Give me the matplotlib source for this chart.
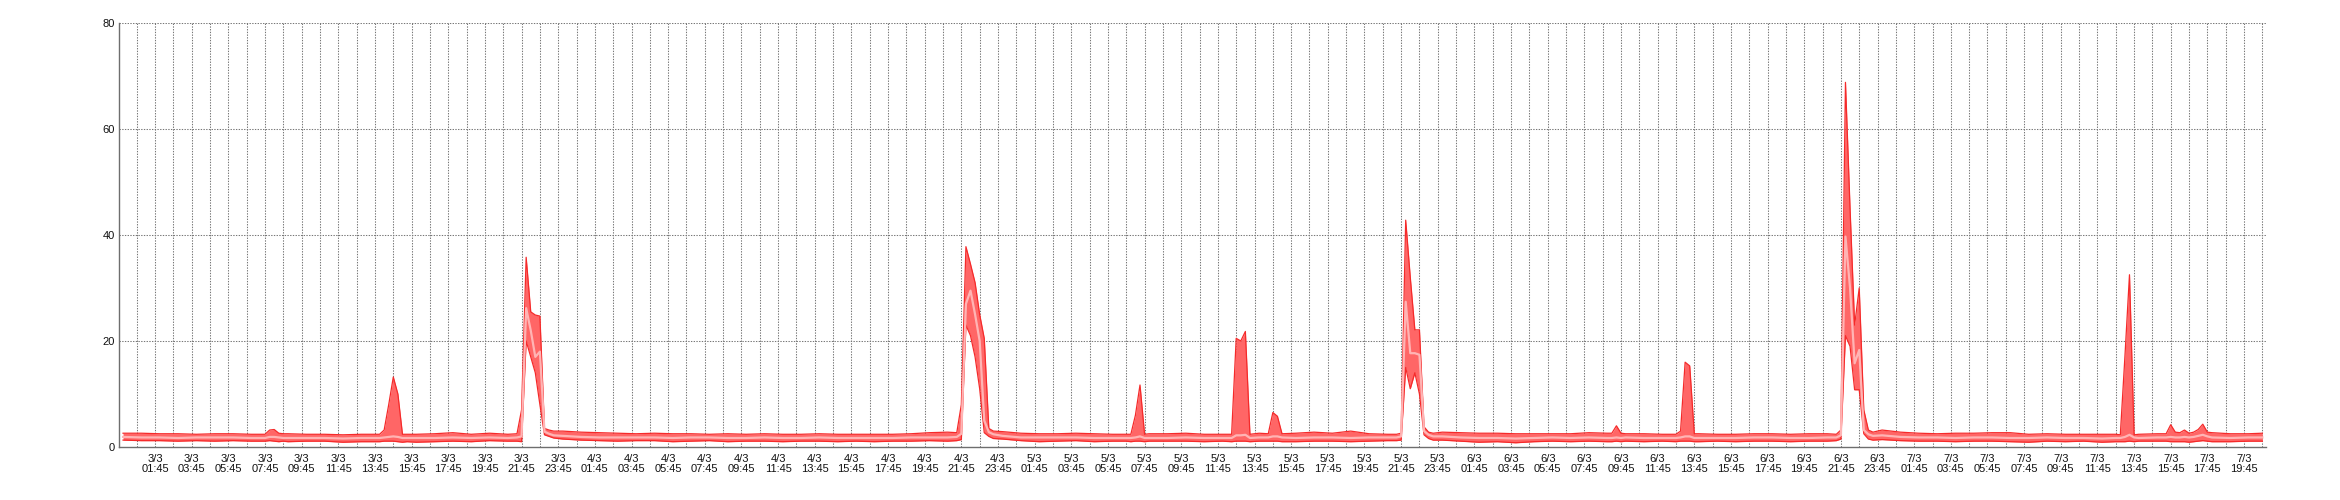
import matplotlib
matplotlib.use("Agg")
import matplotlib.pyplot as plt

# hourly baseline, starting 3/3 00:00 (hour 0) up to 7/3 20:00 (hour 116)
base_hi = [
    2.6, 2.6, 2.5, 2.5, 2.4, 2.5, 2.5, 2.4, 2.4, 2.5, 2.4, 2.4, 2.3, 2.4, 2.4, 2.4, 2.4, 2.5, 2.7, 2.4, 2.6, 2.4, 2.5, 3.2,
    3.0, 2.8, 2.7, 2.6, 2.5, 2.6, 2.5, 2.5, 2.4, 2.5, 2.4, 2.5, 2.4, 2.4, 2.5, 2.4, 2.4, 2.4, 2.4, 2.5, 2.7, 2.8, 2.9, 3.3,
    2.9, 2.6, 2.5, 2.5, 2.6, 2.5, 2.4, 2.4, 2.5, 2.5, 2.6, 2.4, 2.4, 2.4, 2.6, 2.5, 2.6, 2.8, 2.6, 3.0, 2.5, 2.4, 2.5, 3.0,
    2.8, 2.7, 2.6, 2.6, 2.5, 2.5, 2.5, 2.5, 2.7, 2.6, 2.5, 2.5, 2.4, 2.5, 2.5, 2.4, 2.4, 2.5, 2.5, 2.4, 2.5, 2.5, 2.6, 3.2,
    3.2, 2.8, 2.6, 2.5, 2.6, 2.6, 2.7, 2.7, 2.4, 2.5, 2.4, 2.4, 2.4, 2.4, 2.5, 2.5, 2.7, 2.8, 2.6, 2.5, 2.5,
]
base_lo = [
    1.3, 1.2, 1.2, 1.1, 1.2, 1.1, 1.2, 1.1, 1.2, 1.0, 1.1, 1.1, 0.9, 1.0, 1.2, 1.0, 0.9, 1.0, 1.1, 1.0, 1.2, 1.1, 1.1, 1.9,
    1.5, 1.3, 1.2, 1.1, 1.2, 1.2, 1.0, 1.1, 1.2, 1.0, 1.1, 1.1, 1.0, 1.1, 1.1, 1.0, 1.1, 1.0, 1.1, 1.1, 1.2, 1.1, 1.1, 1.8,
    1.5, 1.2, 1.0, 1.1, 1.2, 1.0, 1.1, 1.1, 0.9, 1.1, 1.1, 1.0, 1.1, 1.0, 1.1, 1.1, 1.0, 1.1, 1.1, 1.0, 1.1, 1.2, 1.2, 1.7,
    1.3, 1.1, 0.9, 1.0, 0.8, 1.0, 1.1, 1.0, 1.1, 1.0, 1.1, 1.0, 1.1, 1.1, 1.0, 1.1, 1.0, 1.1, 1.1, 1.0, 1.1, 1.1, 1.2, 1.8,
    1.4, 1.2, 1.1, 1.1, 1.0, 1.1, 1.1, 1.0, 0.9, 1.1, 1.0, 1.1, 0.9, 1.1, 1.1, 1.1, 1.0, 0.9, 1.1, 1.0, 1.1,
]
base_avg = [
    1.9, 1.8, 1.8, 1.7, 1.8, 1.8, 1.8, 1.7, 1.8, 1.7, 1.7, 1.7, 1.6, 1.7, 1.8, 1.7, 1.7, 1.7, 1.8, 1.7, 1.8, 1.7, 1.8, 2.4,
    2.1, 1.9, 1.8, 1.8, 1.8, 1.8, 1.7, 1.8, 1.8, 1.7, 1.7, 1.8, 1.7, 1.7, 1.8, 1.7, 1.7, 1.7, 1.7, 1.8, 1.8, 1.8, 1.9, 2.4,
    2.1, 1.8, 1.8, 1.8, 1.8, 1.7, 1.7, 1.7, 1.7, 1.7, 1.8, 1.7, 1.7, 1.7, 1.8, 1.8, 1.7, 1.8, 1.8, 1.7, 1.8, 1.8, 1.8, 2.3,
    2.0, 1.8, 1.7, 1.7, 1.6, 1.7, 1.8, 1.7, 1.8, 1.7, 1.8, 1.7, 1.7, 1.8, 1.7, 1.7, 1.7, 1.8, 1.8, 1.7, 1.7, 1.8, 1.8, 2.4,
    2.2, 1.9, 1.8, 1.8, 1.7, 1.8, 1.8, 1.7, 1.7, 1.8, 1.7, 1.7, 1.6, 1.7, 1.8, 1.8, 1.8, 1.9, 1.8, 1.7, 1.8,
]
# last sample 7/3 20:45
end_hour = 116.75
end_vals = (2.6, 1.1, 1.8)

# peaks at 15 minute resolution: start hour, then max / min / average
spike_start = [7.75, 14.0, 21.5, 45.5, 54.75, 60.5, 62.5, 69.5, 81.25, 84.75, 93.5, 108.75, 111.5]
spike_hi = [
    [2.4, 3.2, 3.3, 2.6, 2.5],
    [2.4, 3.2, 8.0, 13.2, 10.0, 2.4, 2.4],
    [2.5, 7.0, 35.8, 25.5, 24.9, 24.7, 3.5, 3.2, 3.0],
    [2.7, 8.0, 37.8, 34.5, 31.0, 25.0, 20.5, 3.5, 3.0],
    [2.4, 2.4, 6.0, 11.7, 2.4, 2.5],
    [2.4, 20.5, 20.0, 21.8, 2.4],
    [2.5, 6.5, 5.8, 2.5],
    [2.4, 2.6, 42.8, 32.0, 22.1, 22.1, 3.8, 2.8, 2.6],
    [2.6, 4.0, 2.6],
    [2.4, 3.0, 16.0, 15.3, 2.5],
    [2.4, 3.2, 68.8, 45.0, 23.0, 30.0, 7.0, 3.2, 2.8],
    [2.4, 2.3, 17.0, 32.5, 2.3, 2.4],
    [2.5, 4.2, 2.8, 2.7, 3.2, 2.6, 2.8, 3.3, 4.3, 2.8, 2.7],
]
spike_lo = [
    [1.1, 1.2, 1.1, 1.0, 1.1],
    [1.0, 1.1, 1.1, 1.1, 1.0, 0.9, 1.0],
    [1.1, 1.0, 20.0, 17.0, 14.0, 8.0, 2.3, 2.0, 1.7],
    [1.2, 1.4, 23.0, 21.0, 17.0, 11.0, 2.7, 2.0, 1.6],
    [1.1, 1.0, 1.1, 1.1, 1.0, 1.1],
    [1.0, 1.1, 1.1, 1.1, 1.0],
    [1.1, 1.1, 1.1, 1.0],
    [1.2, 1.3, 15.0, 11.0, 14.0, 10.0, 2.3, 1.6, 1.3],
    [1.0, 1.1, 1.0],
    [1.0, 1.1, 1.1, 1.1, 1.0],
    [1.2, 1.5, 21.0, 19.0, 10.8, 10.8, 2.5, 1.5, 1.3],
    [1.0, 1.0, 1.0, 1.1, 1.0, 1.1],
    [1.1, 1.0, 1.0, 1.0, 1.0, 0.9, 1.0, 1.1, 1.2, 1.1, 1.0],
]
spike_avg = [
    [1.7, 1.9, 1.9, 1.8, 1.7],
    [1.7, 1.8, 1.9, 2.0, 1.9, 1.7, 1.7],
    [1.8, 2.0, 26.2, 22.0, 17.0, 18.0, 2.9, 2.5, 2.2],
    [1.9, 2.5, 27.0, 29.5, 25.0, 20.0, 5.0, 2.8, 2.4],
    [1.7, 1.7, 1.8, 2.0, 1.7, 1.7],
    [1.7, 2.2, 2.2, 2.3, 1.7],
    [1.8, 2.0, 2.0, 1.8],
    [1.8, 2.0, 27.4, 17.7, 17.7, 17.4, 3.0, 2.3, 2.0],
    [1.7, 1.8, 1.7],
    [1.7, 1.8, 2.0, 2.0, 1.7],
    [1.8, 2.2, 39.7, 30.0, 15.8, 18.3, 3.2, 2.4, 2.1],
    [1.7, 1.7, 1.9, 2.3, 1.8, 1.7],
    [1.8, 1.9, 1.8, 1.8, 1.9, 1.8, 1.9, 2.1, 2.3, 2.0, 1.8],
]


def merge():
    pts = {}
    for h in range(len(base_hi)):
        pts[float(h)] = (base_hi[h], base_lo[h], base_avg[h])
    pts[end_hour] = end_vals
    for s, hi, lo, av in zip(spike_start, spike_hi, spike_lo, spike_avg):
        e = s + 0.25 * (len(hi) - 1)
        for h in list(pts):
            if s <= h <= e:
                del pts[h]
        for i in range(len(hi)):
            pts[s + 0.25 * i] = (hi[i], lo[i], av[i])
    t = sorted(pts)
    return t, [pts[h][0] for h in t], [pts[h][1] for h in t], [pts[h][2] for h in t]


t, hi, lo, avg = merge()

plt.rcParams['font.family'] = ['Liberation Sans', 'DejaVu Sans']

fig = plt.figure(figsize=(23.4, 5.0), dpi=100)
ax = fig.add_axes([119 / 2340, 53 / 500, 2147 / 2340, 424 / 500])

ax.fill_between(t, lo, hi, color='#ff6666', lw=0, zorder=3)
ax.plot(t, hi, color='#f52a2a', lw=0.9, zorder=4)
ax.plot(t, lo, color='#f52a2a', lw=0.9, zorder=4)
ax.plot(t, avg, color='#ffb4b4', lw=1.6, zorder=5)

ax.set_ylim(0, 80)
ax.set_xlim(-0.22, 116.95)
ax.set_yticks([0, 20, 40, 60, 80])

# vertical grid every hour at :45, labels every two hours
grid_hours = [0.75 + k for k in range(117)]
for g in grid_hours:
    ax.axvline(g, color='#777777', lw=0.75, ls=(0, (1.3, 1.3)), zorder=1)
for y in [20, 40, 60, 80]:
    ax.axhline(y, color='#777777', lw=0.75, ls=(0, (1.3, 1.3)), zorder=1)

label_hours = [1.75 + 2 * k for k in range(58)]
labels = []
for h in label_hours:
    day = 3 + int(h // 24)
    hh = h % 24
    labels.append('%d/3\n%02d:%02d' % (day, int(hh), int(round((hh % 1) * 60))))
ax.set_xticks(label_hours)
ax.set_xticklabels(labels, linespacing=1.05)

ax.tick_params(axis='x', length=0, pad=5, labelsize=8, colors='#111111')
ax.tick_params(axis='y', length=0, pad=3, labelsize=8, colors='#111111')

for side in ['top', 'right']:
    ax.spines[side].set_visible(False)
for side in ['left', 'bottom']:
    ax.spines[side].set_color('#6e6e6e')
    ax.spines[side].set_linewidth(1.0)

fig.savefig('out.png', dpi=100)
